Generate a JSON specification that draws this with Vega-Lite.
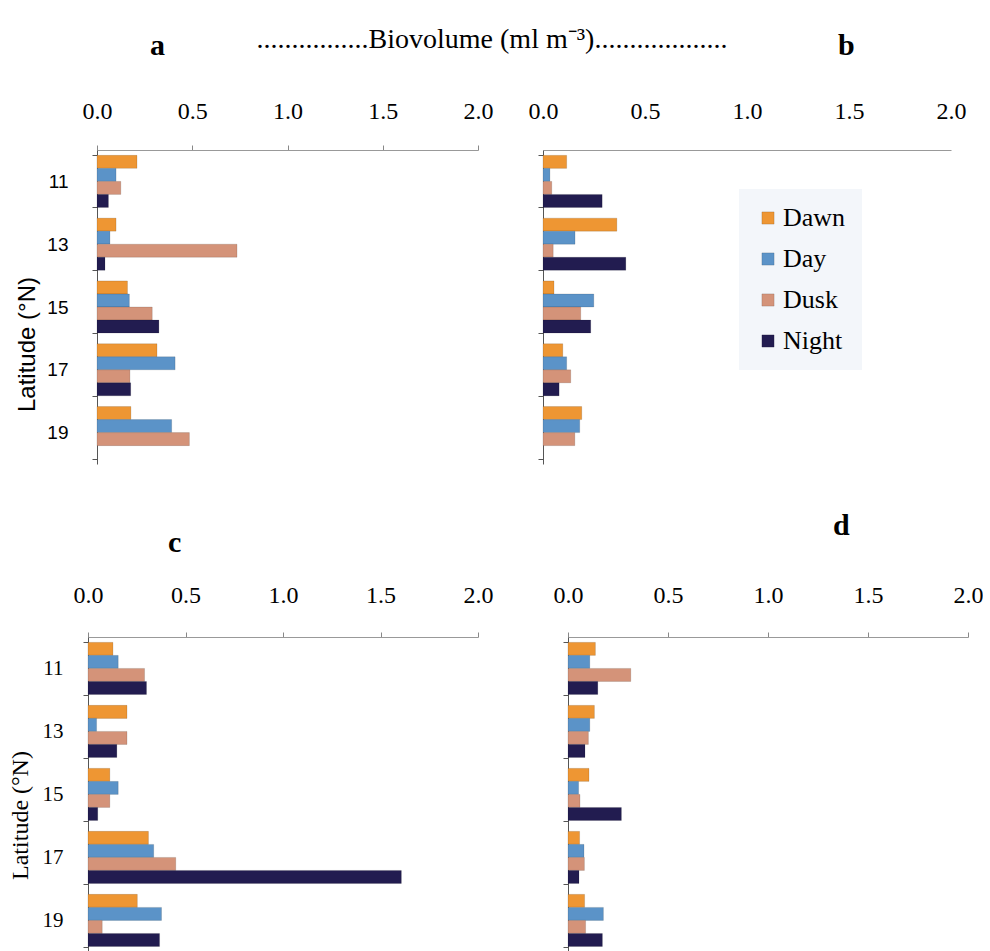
{
  "$schema": "https://vega.github.io/schema/vega-lite/v6.json",
  "background": "white",
  "padding": {"left": 8, "top": 26, "right": 0, "bottom": 0},
  "config": {
    "view": {"stroke": null},
    "font": "Liberation Serif",
    "axis": {"grid": false},
    "bar": {"stroke": "#000000", "strokeOpacity": 0.25, "strokeWidth": 0.5}
  },
  "datasets": {
    "bio": [
      {"panel": "a", "lat": 11, "period": "Dawn", "value": 0.21},
      {"panel": "a", "lat": 11, "period": "Day", "value": 0.10},
      {"panel": "a", "lat": 11, "period": "Dusk", "value": 0.125},
      {"panel": "a", "lat": 11, "period": "Night", "value": 0.06},
      {"panel": "a", "lat": 13, "period": "Dawn", "value": 0.10},
      {"panel": "a", "lat": 13, "period": "Day", "value": 0.068},
      {"panel": "a", "lat": 13, "period": "Dusk", "value": 0.735},
      {"panel": "a", "lat": 13, "period": "Night", "value": 0.042},
      {"panel": "a", "lat": 15, "period": "Dawn", "value": 0.16},
      {"panel": "a", "lat": 15, "period": "Day", "value": 0.17},
      {"panel": "a", "lat": 15, "period": "Dusk", "value": 0.29},
      {"panel": "a", "lat": 15, "period": "Night", "value": 0.325},
      {"panel": "a", "lat": 17, "period": "Dawn", "value": 0.315},
      {"panel": "a", "lat": 17, "period": "Day", "value": 0.41},
      {"panel": "a", "lat": 17, "period": "Dusk", "value": 0.173},
      {"panel": "a", "lat": 17, "period": "Night", "value": 0.177},
      {"panel": "a", "lat": 19, "period": "Dawn", "value": 0.178},
      {"panel": "a", "lat": 19, "period": "Day", "value": 0.392},
      {"panel": "a", "lat": 19, "period": "Dusk", "value": 0.485},
      {"panel": "b", "lat": 11, "period": "Dawn", "value": 0.116},
      {"panel": "b", "lat": 11, "period": "Day", "value": 0.034},
      {"panel": "b", "lat": 11, "period": "Dusk", "value": 0.043},
      {"panel": "b", "lat": 11, "period": "Night", "value": 0.29},
      {"panel": "b", "lat": 13, "period": "Dawn", "value": 0.362},
      {"panel": "b", "lat": 13, "period": "Day", "value": 0.157},
      {"panel": "b", "lat": 13, "period": "Dusk", "value": 0.05},
      {"panel": "b", "lat": 13, "period": "Night", "value": 0.406},
      {"panel": "b", "lat": 15, "period": "Dawn", "value": 0.054},
      {"panel": "b", "lat": 15, "period": "Day", "value": 0.249},
      {"panel": "b", "lat": 15, "period": "Dusk", "value": 0.185},
      {"panel": "b", "lat": 15, "period": "Night", "value": 0.234},
      {"panel": "b", "lat": 17, "period": "Dawn", "value": 0.097},
      {"panel": "b", "lat": 17, "period": "Day", "value": 0.116},
      {"panel": "b", "lat": 17, "period": "Dusk", "value": 0.136},
      {"panel": "b", "lat": 17, "period": "Night", "value": 0.079},
      {"panel": "b", "lat": 19, "period": "Dawn", "value": 0.19},
      {"panel": "b", "lat": 19, "period": "Day", "value": 0.18},
      {"panel": "b", "lat": 19, "period": "Dusk", "value": 0.156},
      {"panel": "c", "lat": 11, "period": "Dawn", "value": 0.128},
      {"panel": "c", "lat": 11, "period": "Day", "value": 0.155},
      {"panel": "c", "lat": 11, "period": "Dusk", "value": 0.29},
      {"panel": "c", "lat": 11, "period": "Night", "value": 0.30},
      {"panel": "c", "lat": 13, "period": "Dawn", "value": 0.20},
      {"panel": "c", "lat": 13, "period": "Day", "value": 0.044},
      {"panel": "c", "lat": 13, "period": "Dusk", "value": 0.20},
      {"panel": "c", "lat": 13, "period": "Night", "value": 0.148},
      {"panel": "c", "lat": 15, "period": "Dawn", "value": 0.112},
      {"panel": "c", "lat": 15, "period": "Day", "value": 0.155},
      {"panel": "c", "lat": 15, "period": "Dusk", "value": 0.112},
      {"panel": "c", "lat": 15, "period": "Night", "value": 0.05},
      {"panel": "c", "lat": 17, "period": "Dawn", "value": 0.31},
      {"panel": "c", "lat": 17, "period": "Day", "value": 0.337},
      {"panel": "c", "lat": 17, "period": "Dusk", "value": 0.45},
      {"panel": "c", "lat": 17, "period": "Night", "value": 1.607},
      {"panel": "c", "lat": 19, "period": "Dawn", "value": 0.253},
      {"panel": "c", "lat": 19, "period": "Day", "value": 0.377},
      {"panel": "c", "lat": 19, "period": "Dusk", "value": 0.073},
      {"panel": "c", "lat": 19, "period": "Night", "value": 0.367},
      {"panel": "d", "lat": 11, "period": "Dawn", "value": 0.137},
      {"panel": "d", "lat": 11, "period": "Day", "value": 0.109},
      {"panel": "d", "lat": 11, "period": "Dusk", "value": 0.314},
      {"panel": "d", "lat": 11, "period": "Night", "value": 0.149},
      {"panel": "d", "lat": 13, "period": "Dawn", "value": 0.132},
      {"panel": "d", "lat": 13, "period": "Day", "value": 0.109},
      {"panel": "d", "lat": 13, "period": "Dusk", "value": 0.102},
      {"panel": "d", "lat": 13, "period": "Night", "value": 0.085},
      {"panel": "d", "lat": 15, "period": "Dawn", "value": 0.105},
      {"panel": "d", "lat": 15, "period": "Day", "value": 0.053},
      {"panel": "d", "lat": 15, "period": "Dusk", "value": 0.06},
      {"panel": "d", "lat": 15, "period": "Night", "value": 0.267},
      {"panel": "d", "lat": 17, "period": "Dawn", "value": 0.058},
      {"panel": "d", "lat": 17, "period": "Day", "value": 0.08},
      {"panel": "d", "lat": 17, "period": "Dusk", "value": 0.082},
      {"panel": "d", "lat": 17, "period": "Night", "value": 0.055},
      {"panel": "d", "lat": 19, "period": "Dawn", "value": 0.083},
      {"panel": "d", "lat": 19, "period": "Day", "value": 0.177},
      {"panel": "d", "lat": 19, "period": "Dusk", "value": 0.088},
      {"panel": "d", "lat": 19, "period": "Night", "value": 0.172}
    ]
  },
  "bounds": "flush",
  "spacing": 487,
  "resolve": {"scale": {"color": "independent"}, "legend": {"color": "independent"}},
  "vconcat": [
    {
      "bounds": "flush",
      "spacing": 0,
      "resolve": {"scale": {"color": "independent"}, "legend": {"color": "independent"}},
      "hconcat": [
        {
          "width": 9,
          "height": 314,
          "title": {"text": "................Biovolume (ml m⁻³)...................", "anchor": "start", "frame": "group", "align": "center", "dx": 404, "offset": 74, "baseline": "alphabetic", "font": "Liberation Serif", "fontSize": 28, "fontWeight": "normal", "color": "black"},
          "data": {"values": []},
          "mark": {"type": "point", "opacity": 0},
          "encoding": {}
        },
        {
          "bounds": "flush",
          "spacing": 65,
          "resolve": {"scale": {"color": "independent"}, "legend": {"color": "independent"}},
          "hconcat": [
            {
              "width": 381,
              "height": 314,
              "title": {"text": "a", "anchor": "start", "frame": "group", "dx": 53, "offset": 14, "baseline": "alphabetic", "font": "Liberation Serif", "fontSize": 30, "fontWeight": "bold", "color": "black"},
              "data": {"name": "bio"},
              "transform": [{"filter": "datum.panel === 'a'"}],
              "mark": {"type": "bar"},
              "encoding": {
                "y": {"field": "lat", "type": "ordinal", "scale": {"paddingInner": 0.17, "paddingOuter": 0.085},
                  "axis": {"tickBand": "extent", "tickSize": 5, "tickColor": "#555", "domainColor": "#555", "labelFont": "Liberation Sans", "labelFontSize": 19, "labelPadding": 24, "labelColor": "black", "labelAngle": 0,
                    "title": "Latitude (°N)", "titleFont": "Liberation Sans", "titleFontSize": 24, "titleFontWeight": "normal", "titleColor": "black", "titleX": -70, "titleY": 194, "titleBaseline": "middle", "titleAngle": -90}},
                "yOffset": {"field": "period", "sort": ["Dawn", "Day", "Dusk", "Night"]},
                "x": {"field": "value", "type": "quantitative", "scale": {"domain": [0, 2], "nice": false},
                  "axis": {"orient": "top", "values": [0, 0.5, 1, 1.5, 2], "format": ".1f", "tickSize": 5, "tickColor": "#888", "domainColor": "#999", "labelFont": "Liberation Serif", "labelFontSize": 24, "labelPadding": 22, "labelColor": "black", "labelFlush": false, "title": null}},
                "color": {"field": "period", "type": "nominal", "scale": {"domain": ["Dawn", "Day", "Dusk", "Night"], "range": ["#ee9633", "#5b93c8", "#d49379", "#221c50"]}, "legend": null}
              }
            },
            {
              "width": 408,
              "height": 314,
              "title": {"text": "b", "anchor": "start", "frame": "group", "dx": 295, "offset": 14, "baseline": "alphabetic", "font": "Liberation Serif", "fontSize": 30, "fontWeight": "bold", "color": "black"},
              "data": {"name": "bio"},
              "transform": [{"filter": "datum.panel === 'b'"}],
              "mark": {"type": "bar"},
              "encoding": {
                "y": {"field": "lat", "type": "ordinal", "scale": {"paddingInner": 0.17, "paddingOuter": 0.085},
                  "axis": {"tickBand": "extent", "tickSize": 5, "tickColor": "#555", "domainColor": "#555", "labels": false, "title": null}},
                "yOffset": {"field": "period", "sort": ["Dawn", "Day", "Dusk", "Night"]},
                "x": {"field": "value", "type": "quantitative", "scale": {"domain": [0, 2], "nice": false},
                  "axis": {"orient": "top", "values": [0, 0.5, 1, 1.5, 2], "format": ".1f", "ticks": false, "domainColor": "#999", "labelFont": "Liberation Serif", "labelFontSize": 24, "labelPadding": 27, "labelColor": "black", "labelFlush": false, "title": null}},
                "color": {"field": "period", "type": "nominal", "scale": {"domain": ["Dawn", "Day", "Dusk", "Night"], "range": ["#ee9633", "#5b93c8", "#d49379", "#221c50"]},
                  "legend": {"orient": "none", "legendX": 196, "legendY": 39, "title": null, "symbolType": "square", "symbolSize": 150, "symbolStrokeWidth": 0, "labelFont": "Liberation Serif", "labelFontSize": 26, "labelColor": "black", "labelOffset": 2, "rowPadding": 15, "padding": 16, "fillColor": "#f3f6fa", "labelLimit": 300}}
              }
            }
          ]
        }
      ]
    },
    {
      "bounds": "flush",
      "spacing": 90,
      "resolve": {"scale": {"color": "independent"}, "legend": {"color": "independent"}},
      "hconcat": [
        {
          "width": 390,
          "height": 315,
          "title": {"text": "c", "anchor": "start", "frame": "group", "dx": 80, "offset": 1, "baseline": "alphabetic", "font": "Liberation Serif", "fontSize": 30, "fontWeight": "bold", "color": "black"},
          "data": {"name": "bio"},
          "transform": [{"filter": "datum.panel === 'c'"}],
          "mark": {"type": "bar"},
          "encoding": {
            "y": {"field": "lat", "type": "ordinal", "scale": {"paddingInner": 0.17, "paddingOuter": 0.085},
              "axis": {"tickBand": "extent", "tickSize": 5, "tickColor": "#555", "domainColor": "#555", "labelFont": "Liberation Serif", "labelFontSize": 21, "labelPadding": 20, "labelColor": "black", "labelAngle": 0,
                "title": "Latitude (°N)", "titleFont": "Liberation Serif", "titleFontSize": 24, "titleFontWeight": "normal", "titleColor": "black", "titleX": -68, "titleY": 178, "titleBaseline": "middle", "titleAngle": -90}},
            "yOffset": {"field": "period", "sort": ["Dawn", "Day", "Dusk", "Night"]},
            "x": {"field": "value", "type": "quantitative", "scale": {"domain": [0, 2], "nice": false},
              "axis": {"orient": "top", "values": [0, 0.5, 1, 1.5, 2], "format": ".1f", "tickSize": 5, "tickColor": "#888", "domainColor": "#999", "labelFont": "Liberation Serif", "labelFontSize": 24, "labelPadding": 25, "labelColor": "black", "labelFlush": false, "title": null}},
            "color": {"field": "period", "type": "nominal", "scale": {"domain": ["Dawn", "Day", "Dusk", "Night"], "range": ["#ee9633", "#5b93c8", "#d49379", "#221c50"]}, "legend": null}
          }
        },
        {
          "width": 400,
          "height": 315,
          "title": {"text": "d", "anchor": "start", "frame": "group", "dx": 265, "offset": 18, "baseline": "alphabetic", "font": "Liberation Serif", "fontSize": 30, "fontWeight": "bold", "color": "black"},
          "data": {"name": "bio"},
          "transform": [{"filter": "datum.panel === 'd'"}],
          "mark": {"type": "bar"},
          "encoding": {
            "y": {"field": "lat", "type": "ordinal", "scale": {"paddingInner": 0.17, "paddingOuter": 0.085},
              "axis": {"tickBand": "extent", "tickSize": 5, "tickColor": "#555", "domainColor": "#555", "labels": false, "title": null}},
            "yOffset": {"field": "period", "sort": ["Dawn", "Day", "Dusk", "Night"]},
            "x": {"field": "value", "type": "quantitative", "scale": {"domain": [0, 2], "nice": false},
              "axis": {"orient": "top", "values": [0, 0.5, 1, 1.5, 2], "format": ".1f", "tickSize": 5, "tickColor": "#888", "domainColor": "#999", "labelFont": "Liberation Serif", "labelFontSize": 24, "labelPadding": 25, "labelColor": "black", "labelFlush": false, "title": null}},
            "color": {"field": "period", "type": "nominal", "scale": {"domain": ["Dawn", "Day", "Dusk", "Night"], "range": ["#ee9633", "#5b93c8", "#d49379", "#221c50"]}, "legend": null}
          }
        }
      ]
    }
  ]
}
